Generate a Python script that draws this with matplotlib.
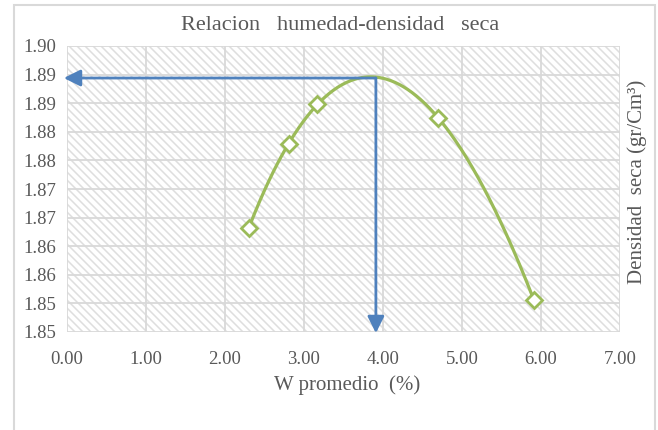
import matplotlib
matplotlib.use("Agg")
import matplotlib.pyplot as plt
from matplotlib.patches import Rectangle
from matplotlib.collections import LineCollection
import numpy as np

# datos del ensayo proctor
w_prom = [2.30, 2.81, 3.17, 4.70, 5.91]
dens_seca = [1.8682, 1.8829, 1.8899, 1.8874, 1.8556]

# punto optimo (humedad optima, densidad maxima)
w_opt = 3.91
dens_max = 1.8944

x_ticks = [0, 1, 2, 3, 4, 5, 6, 7]
x_labels = ["0.00", "1.00", "2.00", "3.00", "4.00", "5.00", "6.00", "7.00"]
y_ticks = [1.850, 1.855, 1.860, 1.865, 1.870, 1.875, 1.880, 1.885, 1.890, 1.895, 1.900]
y_labels = ["1.85", "1.85", "1.86", "1.86", "1.87", "1.87", "1.88", "1.88", "1.89", "1.89", "1.90"]

verde = "#9BBB59"
azul = "#4F81BD"
gris = "#595959"
rejilla = "#D9D9D9"

plt.rcParams['font.family'] = ['Liberation Serif', 'DejaVu Serif']

W, H = 658, 430
izq, der, arr, aba = 67, 620, 46, 332
fig = plt.figure(figsize=(W / 100, H / 100), dpi=100)
ax = fig.add_axes([izq / W, 1 - aba / H, (der - izq) / W, (aba - arr) / H])

# marco del grafico
fig.patches.append(Rectangle((14 / W, -0.05), (655 - 14) / W, 1.05 - 5 / H,
                             transform=fig.transFigure, facecolor="none",
                             edgecolor=rejilla, linewidth=1.5, clip_on=False))

# fondo rayado del area de trazado (lineas a 45 grados cada 8 px)
ancho, alto = der - izq, aba - arr
paso = 8
segs = [[((c - alto) / ancho, 1.0), (c / ancho, 0.0)]
        for c in np.arange(0, ancho + alto + paso, paso)]
rayas = LineCollection(segs, colors="#DEDEDE", linewidths=1.1,
                       transform=ax.transAxes, zorder=0)
ax.add_collection(rayas)

ax.set_xlim(0, 7)
ax.set_ylim(1.85, 1.90)
ax.set_xticks(x_ticks)
ax.set_xticklabels(x_labels)
ax.set_yticks(y_ticks)
ax.set_yticklabels(y_labels)
ax.grid(True, color=rejilla, linewidth=1.3, zorder=1)
ax.set_axisbelow(True)
for s in ax.spines.values():
    s.set_visible(False)
ax.tick_params(length=0, labelsize=13.5, colors=gris, pad=8)
ax.tick_params(axis="x", pad=14)

# curva de tendencia (polinomio grado 3)
coef = np.polyfit(w_prom, dens_seca, 3)
xs = np.linspace(min(w_prom), max(w_prom), 200)
ax.plot(xs, np.polyval(coef, xs), color=verde, linewidth=2.3, zorder=3)
ax.plot(w_prom, dens_seca, linestyle="none", marker="D", markersize=8,
        markerfacecolor="white", markeredgecolor=verde, markeredgewidth=2, zorder=4)

# flechas al punto optimo
flecha = dict(arrowstyle="-|>,head_length=1.0,head_width=0.5",
              color=azul, lw=2, shrinkA=0, shrinkB=0)
ax.annotate("", xy=(-0.04, dens_max), xytext=(w_opt, dens_max),
            arrowprops=flecha, annotation_clip=False, zorder=5)
ax.annotate("", xy=(w_opt, 1.8498), xytext=(w_opt, dens_max),
            arrowprops=flecha, annotation_clip=False, zorder=5)

fig.text(340 / W, 1 - 25 / H, "Relacion   humedad-densidad   seca",
         ha="center", va="center", fontsize=16, color=gris)
fig.text(347 / W, 1 - 385 / H, "W promedio  (%)",
         ha="center", va="center", fontsize=15, color=gris)
fig.text(637 / W, 1 - 182 / H, "Densidad  seca (gr/Cm³)",
         ha="center", va="center", rotation=90, fontsize=15, color=gris)

fig.savefig("out.png", dpi=100)
